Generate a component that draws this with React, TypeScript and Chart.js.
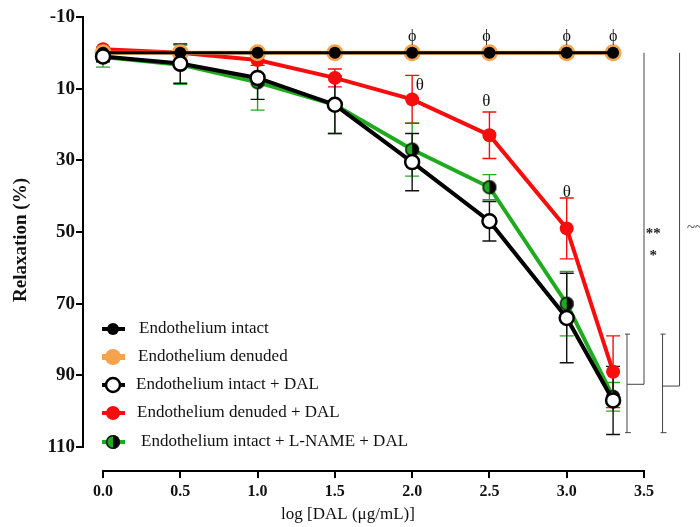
import React, { useEffect, useRef } from "react";
import { Chart, registerables } from "chart.js";

Chart.register(...registerables);

// ---- data ----
const xValues = [0, 0.5, 1.0, 1.5, 2.0, 2.5, 3.0, 3.3];
const intact = [0, 0, 0, 0, 0, 0, 0, 0];
const denuded = [0, 0, 0, 0, 0, 0, 0, 0];
const intactDal = [1, 3, 7, 14.5, 30.5, 47, 74, 97];
const intactDalErr = [1.5, 5.5, 6, 8, 8, 5.5, 12.5, 9.5];
const denudedDal = [-1, 0, 2, 7, 13, 23, 49, 89];
const denudedDalErr = [0.5, 1, 1.5, 2.5, 6.7, 6.5, 8.5, 10];
const lnameDal = [1.2, 3.3, 8.2, 14.5, 27, 37.5, 70, 96];
const lnameDalErr = [2.8, 5.5, 7.8, 8, 7.4, 3.5, 9, 4];

const xTicks = [0, 0.5, 1.0, 1.5, 2.0, 2.5, 3.0, 3.5];
const yTicks = [-10, 10, 30, 50, 70, 90, 110];

const seriesLabels = [
  "Endothelium intact",
  "Endothelium denuded",
  "Endothelium intact + DAL",
  "Endothelium denuded + DAL",
  "Endothelium intact + L-NAME + DAL",
];

// annotation symbols (data coordinates)
const phiX = [2.0, 2.48, 3.0, 3.3];
const phiY = -4.4;
const thetaX = [2.05, 2.48, 3.0];
const thetaY = [9, 13.7, 39];
const bracketX = [3.5, 3.73];
const bracketFootX = [3.39, 3.62];
const bracketTop = 0;
const bracketBottom = [92.5, 93];
const shortBarX = [3.39, 3.62];
const shortBarTop = 78.5;
const shortBarBottom = 106;
const starX = 3.56;
const starsY = [49.5, 55.5];
const starsText = ["**", "*"];
const waveX = 3.83;
const waveY = 49;

const SERIF = "'Liberation Serif', 'Times New Roman', serif";
const GREEN = "#1faa1f";
const RED = "#f70d0d";
const ORANGE = "#f5a24c";

function makeHalf(r: number): HTMLCanvasElement {
  const c = document.createElement("canvas");
  const s = Math.ceil(r * 2 + 2);
  c.width = s;
  c.height = s;
  const g = c.getContext("2d")!;
  const cx = s / 2;
  g.beginPath();
  g.arc(cx, cx, r, Math.PI / 2, Math.PI * 1.5);
  g.closePath();
  g.fillStyle = GREEN;
  g.fill();
  g.beginPath();
  g.arc(cx, cx, r, -Math.PI / 2, Math.PI / 2);
  g.closePath();
  g.fillStyle = "#000";
  g.fill();
  g.beginPath();
  g.arc(cx, cx, r - 0.7, 0, Math.PI * 2);
  g.lineWidth = 1.4;
  g.strokeStyle = "#111";
  g.stroke();
  return c;
}

export default function App() {
  const ref = useRef<HTMLCanvasElement | null>(null);

  useEffect(() => {
    if (!ref.current) return;
    const half = makeHalf(7);
    const pts = (arr: number[]) => xValues.map((x, i) => ({ x, y: arr[i] }));

    const errSeries = [
      { vals: lnameDal, errs: lnameDalErr, color: GREEN },
      { vals: denudedDal, errs: denudedDalErr, color: RED },
      { vals: intactDal, errs: intactDalErr, color: "#111" },
    ];

    const overlay = {
      id: "overlay",
      beforeDatasetsDraw(chart: any) {
        const ctx = chart.ctx;
        const xs = chart.scales.x;
        const ys = chart.scales.y;
        ctx.save();
        // axis lines
        ctx.strokeStyle = "#000";
        ctx.lineWidth = 2;
        ctx.beginPath();
        const ax = chart.chartArea.left;
        ctx.moveTo(ax, ys.getPixelForValue(yTicks[0]) - 1);
        ctx.lineTo(ax, ys.getPixelForValue(yTicks[yTicks.length - 1]) + 1);
        const ay = chart.chartArea.bottom;
        ctx.moveTo(xs.getPixelForValue(xTicks[0]) - 1, ay);
        ctx.lineTo(xs.getPixelForValue(xTicks[xTicks.length - 1]) + 1, ay);
        ctx.stroke();
        // error bars
        ctx.lineWidth = 1.4;
        errSeries.forEach((s) => {
          ctx.strokeStyle = s.color;
          s.vals.forEach((v, i) => {
            const px = xs.getPixelForValue(xValues[i]);
            const y1 = ys.getPixelForValue(v - s.errs[i]);
            const y2 = ys.getPixelForValue(v + s.errs[i]);
            ctx.beginPath();
            ctx.moveTo(px, y1);
            ctx.lineTo(px, y2);
            ctx.moveTo(px - 7, y1);
            ctx.lineTo(px + 7, y1);
            ctx.moveTo(px - 7, y2);
            ctx.lineTo(px + 7, y2);
            ctx.stroke();
          });
        });
        ctx.restore();
      },
      afterDatasetsDraw(chart: any) {
        const ctx = chart.ctx;
        const xs = chart.scales.x;
        const ys = chart.scales.y;
        const X = (v: number) => xs.getPixelForValue(v);
        const Y = (v: number) => ys.getPixelForValue(v);
        ctx.save();
        // phi / theta
        ctx.fillStyle = "#111";
        ctx.textAlign = "center";
        ctx.textBaseline = "middle";
        ctx.font = `16px ${SERIF}`;
        phiX.forEach((x) => ctx.fillText("\u03D5", X(x), Y(phiY)));
        ctx.font = `17px ${SERIF}`;
        thetaX.forEach((x, i) => ctx.fillText("\u03B8", X(x), Y(thetaY[i])));

        // brackets
        ctx.strokeStyle = "#444";
        ctx.lineWidth = 1;
        bracketX.forEach((bx, i) => {
          ctx.beginPath();
          ctx.moveTo(X(bx), Y(bracketTop));
          ctx.lineTo(X(bx), Y(bracketBottom[i]));
          ctx.lineTo(X(bracketFootX[i]), Y(bracketBottom[i]));
          ctx.stroke();
        });
        shortBarX.forEach((sx) => {
          ctx.beginPath();
          ctx.moveTo(X(sx), Y(shortBarTop));
          ctx.lineTo(X(sx), Y(shortBarBottom));
          ctx.moveTo(X(sx) - 2, Y(shortBarTop));
          ctx.lineTo(X(sx) + 3, Y(shortBarTop));
          ctx.moveTo(X(sx) - 2, Y(shortBarBottom));
          ctx.lineTo(X(sx) + 4, Y(shortBarBottom));
          ctx.stroke();
        });
        ctx.fillStyle = "#222";
        ctx.font = `bold 15px ${SERIF}`;
        starsText.forEach((t, i) => ctx.fillText(t, X(starX), Y(starsY[i]) + 4));
        ctx.font = `15px ${SERIF}`;
        ctx.fillText("~~", X(waveX), Y(waveY));

        // legend
        const lx = 113;
        const rows = [329, 357, 385, 413, 442];
        const textX = [139, 138, 136, 137, 141];
        const lineCols = ["#000", ORANGE, "#000", RED, GREEN];
        rows.forEach((ry, i) => {
          ctx.strokeStyle = lineCols[i];
          ctx.lineWidth = i === 1 ? 6 : 4;
          ctx.beginPath();
          ctx.moveTo(lx - 11, ry);
          ctx.lineTo(lx + 12, ry);
          ctx.stroke();
          if (i === 4) {
            ctx.drawImage(half, lx - half.width / 2, ry - half.height / 2);
          } else {
            ctx.beginPath();
            const r = i === 0 ? 6 : i === 1 ? 8 : 7;
            ctx.arc(lx, ry, r, 0, Math.PI * 2);
            ctx.fillStyle = i === 0 ? "#000" : i === 1 ? ORANGE : i === 2 ? "#fff" : RED;
            ctx.fill();
            if (i === 2) {
              ctx.lineWidth = 2.5;
              ctx.strokeStyle = "#000";
              ctx.stroke();
            }
          }
          ctx.fillStyle = "#111";
          ctx.textAlign = "left";
          ctx.textBaseline = "middle";
          ctx.font = `17px ${SERIF}`;
          ctx.fillText(seriesLabels[i], textX[i], ry);
        });

        // axis titles
        ctx.textAlign = "center";
        ctx.textBaseline = "middle";
        ctx.font = `17px ${SERIF}`;
        ctx.fillText("log [DAL (\u03BCg/mL)]", 348, 515);
        ctx.save();
        ctx.translate(21, 240);
        ctx.rotate(-Math.PI / 2);
        ctx.font = `bold 19px ${SERIF}`;
        ctx.fillText("Relaxation (%)", 0, 0);
        ctx.restore();
        ctx.restore();
      },
    };

    const chart = new Chart(ref.current, {
      type: "line",
      data: {
        datasets: [
          {
            label: seriesLabels[2],
            data: pts(intactDal),
            borderColor: "#000",
            borderWidth: 4,
            pointRadius: 7,
            pointBackgroundColor: "#fff",
            pointBorderColor: "#000",
            pointBorderWidth: 2.5,
            order: 0,
          },
          {
            label: seriesLabels[4],
            data: pts(lnameDal),
            borderColor: GREEN,
            borderWidth: 4,
            pointStyle: half as any,
            pointRadius: 7,
            order: 1,
          },
          {
            label: seriesLabels[0],
            data: pts(intact),
            borderColor: "#000",
            borderWidth: 3,
            pointRadius: 6,
            pointBackgroundColor: "#000",
            pointBorderColor: "#000",
            pointBorderWidth: 0,
            order: 2,
          },
          {
            label: seriesLabels[1],
            data: pts(denuded),
            borderColor: ORANGE,
            borderWidth: 4,
            pointRadius: 8.5,
            pointBackgroundColor: ORANGE,
            pointBorderColor: ORANGE,
            pointBorderWidth: 0,
            order: 3,
          },
          {
            label: seriesLabels[3],
            data: pts(denudedDal),
            borderColor: RED,
            borderWidth: 4,
            pointRadius: 7,
            pointBackgroundColor: RED,
            pointBorderColor: RED,
            pointBorderWidth: 0,
            order: 4,
          },
        ],
      },
      options: {
        animation: false,
        responsive: false,
        devicePixelRatio: 1,
        layout: { padding: { top: 17, right: 56, bottom: 0, left: 0 } },
        plugins: { legend: { display: false }, tooltip: { enabled: false } },
        scales: {
          x: {
            type: "linear",
            min: -0.1295,
            max: 3.5,
            border: { display: false },
            grid: {
              drawOnChartArea: false,
              drawTicks: true,
              tickLength: 7,
              color: "#000",
              lineWidth: 2,
            },
            afterBuildTicks: (s: any) => {
              s.ticks = xTicks.map((v) => ({ value: v }));
            },
            afterFit: (s: any) => {
              s.height = 56;
            },
            ticks: {
              color: "#111",
              padding: 4,
              maxRotation: 0,
              autoSkip: false,
              font: { family: SERIF, size: 16, weight: "bold" },
              callback: (v: any) => Number(v).toFixed(1),
            },
          },
          y: {
            type: "linear",
            reverse: true,
            min: -10,
            max: 116.7,
            border: { display: false },
            grid: {
              drawOnChartArea: false,
              drawTicks: true,
              tickLength: 7,
              color: "#000",
              lineWidth: 2,
            },
            afterBuildTicks: (s: any) => {
              s.ticks = yTicks.map((v) => ({ value: v }));
            },
            afterFit: (s: any) => {
              s.width = 83;
            },
            ticks: {
              color: "#111",
              padding: 1,
              autoSkip: false,
              font: { family: SERIF, size: 19, weight: "bold" },
              callback: (v: any) => String(v),
            },
          },
        },
      },
      plugins: [overlay],
    });
    return () => chart.destroy();
  }, []);

  return (
    <div style={{ position: "absolute", left: 0, top: 0, width: 700, height: 527, background: "#fff" }}>
      <canvas ref={ref} width={700} height={527} style={{ width: 700, height: 527, display: "block" }} />
    </div>
  );
}
